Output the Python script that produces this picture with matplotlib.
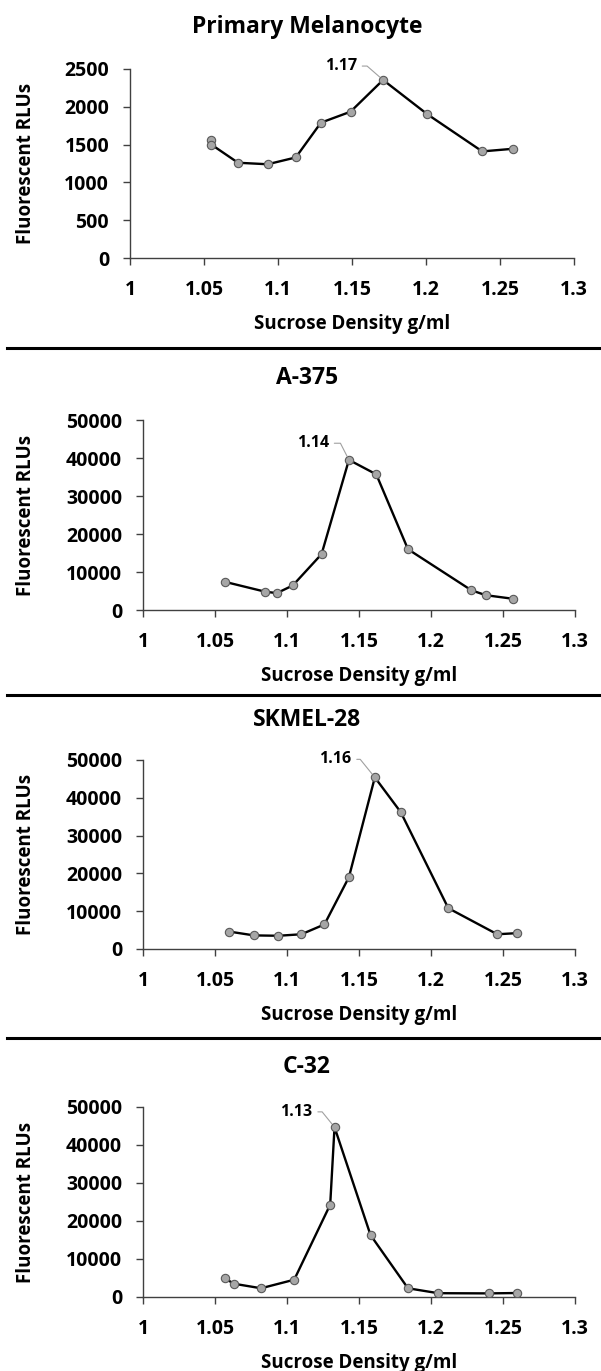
"""
Sucrose density gradient profiles - four cell lines stacked vertically.
"""

import matplotlib
matplotlib.use("Agg")
import matplotlib.pyplot as plt
from matplotlib.lines import Line2D
from matplotlib.ticker import FuncFormatter, MultipleLocator

plt.rcParams["font.family"] = ["Open Sans", "DejaVu Sans"]
plt.rcParams["font.weight"] = "bold"

# ── Data ──────────────────────────────────────────────────────────────────────
pm_density = [1.055, 1.055, 1.073, 1.093, 1.112, 1.129, 1.149, 1.171, 1.201, 1.238, 1.259]
pm_rlu     = [1560, 1500, 1260, 1240, 1330, 1790, 1935, 2355, 1900, 1410, 1445]

a375_density = [1.057, 1.085, 1.093, 1.104, 1.124, 1.143, 1.162, 1.184, 1.228, 1.238, 1.257]
a375_rlu     = [7400, 4800, 4450, 6450, 14700, 39500, 35700, 16000, 5200, 3900, 2950]

sk28_density = [1.060, 1.077, 1.094, 1.110, 1.126, 1.143, 1.161, 1.179, 1.212, 1.246, 1.260]
sk28_rlu     = [4600, 3600, 3500, 3900, 6500, 19000, 45400, 36200, 10800, 3900, 4200]

c32_density = [1.057, 1.063, 1.082, 1.105, 1.130, 1.133, 1.158, 1.184, 1.205, 1.240, 1.260]
c32_rlu     = [4900, 3500, 2300, 4550, 24300, 44700, 16300, 2300, 1000, 950, 1050]

titles      = ["Primary Melanocyte", "A-375", "SKMEL-28", "C-32"]
peak_labels = ["1.17", "1.14", "1.16", "1.13"]
y_max       = [2500, 50000, 50000, 50000]
y_step      = [500, 10000, 10000, 10000]

# ── Layout (pixels measured on the reference) ────────────────────────────────
W, H = 601, 1371
# left, bottom (from top), width, height
AX_PX = [
    (130, 258, 444, 189),
    (143, 610, 432, 190),
    (143, 949, 432, 189),
    (143, 1297, 432, 190),
]
TITLE_Y_PX = [27, 378, 720, 1067]
TITLE_X_PX = 307
YLABEL_X_PX = 36
SEP_Y_PX   = [348, 695, 1038]
# text offset (points) and leader angle for the peak label
LEADER     = [(-19, 10, 139), (-14.5, 12, 117), (-17, 13, 129), (-16, 11, 129)]

LINE_COLOR   = "black"
MARKER_FACE  = "#a6a6a6"
MARKER_EDGE  = "#595959"
SPINE_COLOR  = "#404040"

fig = plt.figure(figsize=(W / 100, H / 100), dpi=100)

fmt_x = FuncFormatter(lambda v, _: f"{v:.2f}".rstrip("0").rstrip("."))

series = [
    (pm_density, pm_rlu),
    (a375_density, a375_rlu),
    (sk28_density, sk28_rlu),
    (c32_density, c32_rlu),
]

for i, (x, y) in enumerate(series):
    l, b, w, h = AX_PX[i]
    ax = fig.add_axes([l / W, 1 - b / H, w / W, h / H])

    ax.plot(x, y, color=LINE_COLOR, lw=1.7, marker="o", markersize=6,
            markerfacecolor=MARKER_FACE, markeredgecolor=MARKER_EDGE,
            markeredgewidth=0.8, zorder=3)

    ax.set_xlim(1, 1.3)
    ax.set_ylim(0, y_max[i])
    ax.xaxis.set_major_locator(MultipleLocator(0.05))
    ax.xaxis.set_major_formatter(fmt_x)
    ax.yaxis.set_major_locator(MultipleLocator(y_step[i]))

    for s in ["top", "right"]:
        ax.spines[s].set_visible(False)
    for s in ["left", "bottom"]:
        ax.spines[s].set_color(SPINE_COLOR)
        ax.spines[s].set_linewidth(1.0)

    ax.tick_params(axis="x", direction="out", length=5, width=1.0,
                   color=SPINE_COLOR, pad=11, labelsize=14)
    ax.tick_params(axis="y", direction="out", length=5, width=1.0,
                   color=SPINE_COLOR, pad=10, labelsize=14)
    for lab in ax.get_xticklabels() + ax.get_yticklabels():
        lab.set_fontweight("bold")

    ax.set_xlabel("Sucrose Density g/ml", fontsize=13.5, fontweight="bold", labelpad=10)
    ax.set_ylabel("Fluorescent RLUs", fontsize=13.5, fontweight="bold")
    ax.yaxis.set_label_coords((YLABEL_X_PX - l) / w, 0.5)

    fig.text(TITLE_X_PX / W, 1 - TITLE_Y_PX[i] / H, titles[i], ha="center", va="center",
             fontsize=16.5, fontweight="bold")

    # peak label with Excel-style leader line
    k = max(range(len(y)), key=lambda j: y[j])
    dx, dy, angB = LEADER[i]
    ax.annotate(peak_labels[i], xy=(x[k], y[k]), xytext=(dx, dy),
                textcoords="offset points", ha="right", va="center",
                fontsize=11.5, fontweight="bold",
                arrowprops=dict(arrowstyle="-", color="#a0a0a0", lw=0.8,
                                shrinkA=2, shrinkB=3,
                                connectionstyle=f"angle,angleA=0,angleB={angB},rad=0"))

# ── Separators between panels ────────────────────────────────────────────────
for yp in SEP_Y_PX:
    fig.add_artist(Line2D([7 / W, 1.0], [1 - yp / H, 1 - yp / H],
                          color="black", lw=2.2))

fig.savefig("out.png", dpi=100)
